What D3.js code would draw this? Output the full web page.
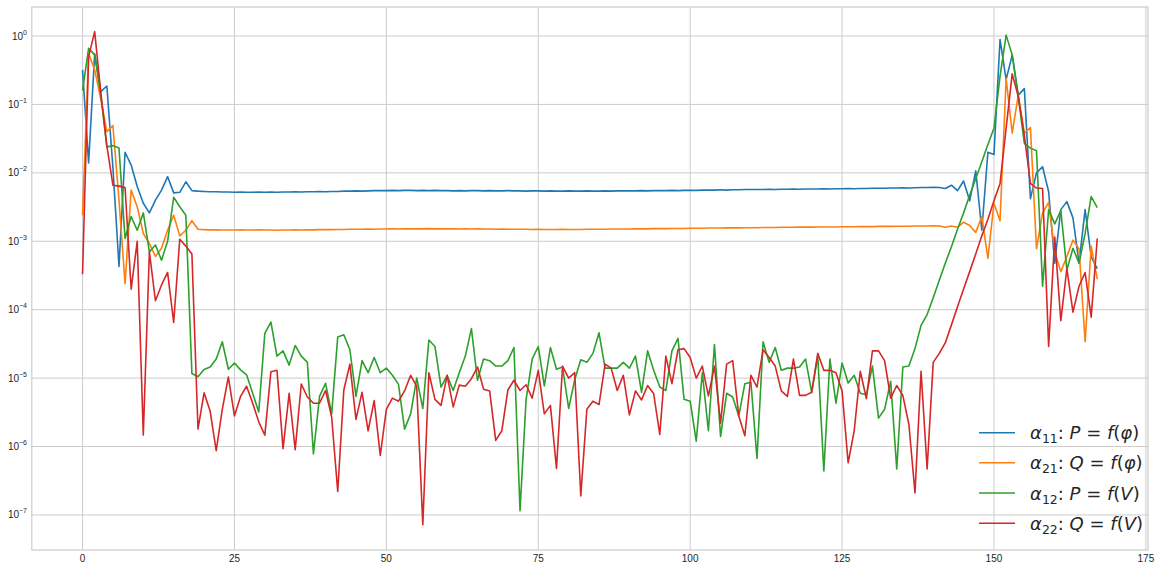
<!DOCTYPE html>
<html><head><meta charset="utf-8">
<script src="https://cdn.jsdelivr.net/npm/d3@7"></script>
<style>html,body{margin:0;padding:0;background:#fff;}svg{display:block;}</style>
</head><body><svg id="chart" width="1161" height="570"></svg>
<script>
const xTicks = [0, 25, 50, 75, 100, 125, 150, 175];
const yTickExps = [0, -1, -2, -3, -4, -5, -6, -7];
const seriesNames = ["11", "21", "12", "22"];
const seriesLhs = ["P", "Q", "P", "Q"];
const seriesArg = ["φ", "φ", "V", "V"];
const colors = ["#1f77b4", "#ff7f0e", "#2ca02c", "#d62728"];

const alpha11 = [
0.32,0.014,0.55,0.154,0.186,0.012,4.3e-4,0.020,0.013,6.3e-3,
3.6e-3,2.6e-3,4.0e-3,5.6e-3,8.8e-3,5.1e-3,5.2e-3,7.4e-3,5.5e-3,5.4e-3,
5.35e-3,5.3e-3,5.3e-3,5.25e-3,5.25e-3,5.2e-3,5.25e-3,5.2e-3,5.2e-3,5.25e-3,
5.2e-3,5.25e-3,5.2e-3,5.25e-3,5.25e-3,5.3e-3,5.25e-3,5.3e-3,5.3e-3,5.35e-3,
5.3e-3,5.35e-3,5.35e-3,5.4e-3,5.4e-3,5.45e-3,5.4e-3,5.45e-3,5.5e-3,5.5e-3,
5.5e-3,5.55e-3,5.5e-3,5.55e-3,5.55e-3,5.5e-3,5.55e-3,5.5e-3,5.55e-3,5.5e-3,
5.5e-3,5.45e-3,5.5e-3,5.45e-3,5.5e-3,5.5e-3,5.45e-3,5.5e-3,5.45e-3,5.45e-3,
5.5e-3,5.45e-3,5.45e-3,5.4e-3,5.45e-3,5.45e-3,5.4e-3,5.45e-3,5.4e-3,5.4e-3,
5.45e-3,5.4e-3,5.4e-3,5.45e-3,5.4e-3,5.4e-3,5.45e-3,5.4e-3,5.45e-3,5.45e-3,
5.45e-3,5.45e-3,5.5e-3,5.45e-3,5.5e-3,5.5e-3,5.5e-3,5.55e-3,5.5e-3,5.55e-3,
5.55e-3,5.55e-3,5.6e-3,5.6e-3,5.6e-3,5.65e-3,5.6e-3,5.65e-3,5.65e-3,5.7e-3,
5.7e-3,5.7e-3,5.7e-3,5.75e-3,5.7e-3,5.75e-3,5.75e-3,5.8e-3,5.75e-3,5.8e-3,
5.8e-3,5.8e-3,5.85e-3,5.8e-3,5.85e-3,5.85e-3,5.9e-3,5.85e-3,5.9e-3,5.9e-3,
5.95e-3,5.95e-3,5.95e-3,6.0e-3,6.0e-3,6.05e-3,6.0e-3,6.05e-3,6.1e-3,6.1e-3,
6.15e-3,6.1e-3,5.9e-3,6.6e-3,5.5e-3,7.6e-3,3.9e-3,0.0107,1.45e-3,0.020,
0.0186,0.89,0.23,0.53,0.137,0.17,4.2e-3,0.010,0.0123,5.3e-3,
4.8e-4,2.9e-3,3.8e-3,2.2e-3,4.8e-4,2.9e-3,5.9e-4,4.0e-4];

const alpha21 = [
2.4e-3,0.56,0.32,0.12,0.04,0.049,4.0e-3,2.4e-4,5.6e-3,3.2e-3,
1.3e-3,9.3e-4,6.0e-4,7.9e-4,1.45e-3,2.4e-3,1.2e-3,1.45e-3,2.0e-3,1.5e-3,
1.48e-3,1.47e-3,1.47e-3,1.46e-3,1.46e-3,1.46e-3,1.47e-3,1.46e-3,1.46e-3,1.47e-3,
1.46e-3,1.46e-3,1.45e-3,1.46e-3,1.46e-3,1.47e-3,1.46e-3,1.47e-3,1.47e-3,1.48e-3,
1.48e-3,1.48e-3,1.49e-3,1.49e-3,1.5e-3,1.5e-3,1.5e-3,1.51e-3,1.5e-3,1.51e-3,
1.51e-3,1.52e-3,1.51e-3,1.52e-3,1.52e-3,1.52e-3,1.52e-3,1.53e-3,1.52e-3,1.52e-3,
1.52e-3,1.52e-3,1.51e-3,1.52e-3,1.51e-3,1.52e-3,1.51e-3,1.51e-3,1.5e-3,1.51e-3,
1.5e-3,1.5e-3,1.5e-3,1.5e-3,1.49e-3,1.5e-3,1.49e-3,1.49e-3,1.49e-3,1.5e-3,
1.49e-3,1.49e-3,1.49e-3,1.5e-3,1.5e-3,1.5e-3,1.5e-3,1.51e-3,1.51e-3,1.51e-3,
1.51e-3,1.52e-3,1.52e-3,1.52e-3,1.53e-3,1.53e-3,1.53e-3,1.54e-3,1.54e-3,1.54e-3,
1.55e-3,1.55e-3,1.55e-3,1.56e-3,1.56e-3,1.56e-3,1.57e-3,1.57e-3,1.57e-3,1.58e-3,
1.58e-3,1.58e-3,1.59e-3,1.59e-3,1.59e-3,1.6e-3,1.6e-3,1.6e-3,1.61e-3,1.61e-3,
1.61e-3,1.62e-3,1.62e-3,1.62e-3,1.62e-3,1.63e-3,1.63e-3,1.63e-3,1.64e-3,1.64e-3,
1.64e-3,1.65e-3,1.65e-3,1.65e-3,1.66e-3,1.66e-3,1.66e-3,1.67e-3,1.67e-3,1.67e-3,
1.68e-3,1.67e-3,1.6e-3,1.67e-3,1.6e-3,1.9e-3,1.7e-3,1.35e-3,2.3e-3,5.6e-4,
3.6e-3,2.0e-3,0.24,0.038,0.137,0.038,0.046,7.8e-4,2.6e-3,3.7e-3,
7.0e-4,3.6e-4,6.0e-4,1.04e-3,7.8e-4,3.4e-5,8.5e-4,2.8e-4];

const alpha12 = [
0.16,0.66,0.53,0.14,0.024,0.025,0.023,1.1e-3,2.3e-3,1.45e-3,
2.6e-3,7.0e-4,8.8e-4,5.3e-4,1.0e-3,4.4e-3,3.2e-3,2.4e-3,1.17e-5,1.05e-5,
1.34e-5,1.45e-5,1.9e-5,3.4e-5,1.35e-5,1.66e-5,1.32e-5,1.12e-5,6.0e-6,3.2e-6,
4.5e-5,6.6e-5,2.1e-5,2.5e-5,1.55e-5,3.0e-5,2.1e-5,1.7e-5,7.8e-7,5.4e-6,
8.4e-6,3.0e-6,4.0e-5,4.3e-5,2.6e-5,5.4e-6,1.8e-5,1.2e-5,2.0e-5,1.2e-5,
1.4e-5,1.1e-5,8.1e-6,1.8e-6,3.0e-6,1.0e-5,3.6e-6,3.6e-5,2.9e-5,7.4e-6,
1.1e-5,6.6e-6,1.2e-5,2.1e-5,5.3e-5,9.3e-6,1.9e-5,1.8e-5,1.5e-5,1.5e-5,
1.8e-5,2.8e-5,1.15e-7,4.9e-6,1.9e-5,2.9e-5,7.7e-6,2.8e-5,1.35e-5,1.45e-5,
3.6e-6,9.5e-6,1.85e-5,1.7e-5,2.3e-5,4.6e-5,1.4e-5,1.4e-5,1.4e-5,1.7e-5,
1.4e-5,2.1e-5,6.2e-6,2.5e-5,1.3e-5,7.4e-6,6.6e-6,2.5e-5,3.8e-5,4.9e-6,
4.6e-6,1.2e-6,1.2e-5,1.7e-6,3.1e-5,1.4e-6,6.0e-6,5.3e-6,2.8e-6,8.3e-6,
8.7e-6,6.7e-7,3.4e-5,1.7e-5,2.8e-5,1.3e-5,1.4e-5,1.4e-5,1.45e-5,1.9e-5,
6.2e-6,2.1e-5,4.4e-7,1.9e-5,4.3e-6,1.66e-5,8.5e-6,1.1e-5,6.0e-6,5.7e-6,
1.5e-5,2.6e-6,3.5e-6,9.0e-6,4.7e-7,1.45e-5,1.5e-5,2.7e-5,5.9e-5,8.5e-5,
1.5e-4,2.7e-4,4.8e-4,8.3e-4,1.5e-3,2.6e-3,4.7e-3,8.2e-3,0.0145,0.026,
0.045,0.26,1.03,0.53,0.13,0.027,0.023,0.021,2.2e-4,2.9e-3,
1.8e-3,2.8e-3,3.8e-4,7.9e-4,4.8e-4,1.3e-3,4.5e-3,3.1e-3];

const alpha22 = [
3.3e-4,0.5,1.16,0.15,0.025,6.6e-3,6.4e-3,6.1e-3,2.0e-4,1.0e-3,
1.47e-6,7.0e-4,1.35e-4,2.3e-4,3.5e-4,6.5e-5,1.07e-3,8.5e-4,6.5e-4,1.8e-6,
6.1e-6,3.3e-6,8.7e-7,3.5e-6,1.04e-5,2.8e-6,5.4e-6,7.6e-6,4.3e-6,2.3e-6,
1.47e-6,1.24e-5,1.3e-5,9.3e-7,6.0e-6,9.0e-7,8.2e-6,5.3e-6,4.3e-6,4.3e-6,
6.6e-6,2.7e-6,2.2e-7,6.7e-6,1.6e-5,2.5e-6,6.2e-6,1.7e-6,4.7e-6,7.4e-7,
3.5e-6,5.1e-6,4.6e-6,6.5e-6,1.1e-5,7.6e-6,7.2e-8,1.2e-5,4.9e-6,4.0e-6,
1.1e-5,3.8e-6,7.9e-6,7.6e-6,9.8e-6,1.45e-5,6.9e-6,6.5e-6,1.23e-6,1.7e-6,
6.7e-6,9.3e-6,6.6e-6,8.0e-6,5.1e-6,1.3e-5,3.0e-6,4.0e-6,4.8e-7,1.5e-5,
1.0e-5,1.2e-5,1.9e-7,3.5e-6,4.6e-6,4.1e-6,1.6e-5,1.4e-5,6.6e-6,1.1e-5,
2.9e-6,6.5e-6,4.8e-6,7.8e-6,5.9e-6,1.5e-6,2.1e-5,8.3e-6,2.6e-5,2.7e-5,
2.0e-5,1.0e-5,1.5e-5,5.5e-6,1.5e-5,2.2e-6,1.6e-5,1.8e-5,2.8e-6,1.44e-6,
1.1e-5,7.4e-6,2.6e-5,2.0e-5,1.5e-5,6.5e-6,5.4e-6,1.9e-5,5.6e-6,5.6e-6,
6.2e-6,2.3e-5,1.3e-5,1.3e-5,1.2e-5,6.5e-6,5.8e-7,1.7e-6,1.26e-5,5.0e-6,
2.5e-5,2.5e-5,1.8e-5,5.1e-6,7.8e-6,5.6e-6,2.1e-6,2.1e-7,1.26e-5,4.7e-7,
1.7e-5,2.3e-5,3.3e-5,6.0e-5,1.1e-4,2.0e-4,3.6e-4,6.5e-4,1.2e-3,2.1e-3,
3.9e-3,7.0e-3,0.045,0.28,0.13,0.035,7.0e-3,6.0e-3,5.9e-3,2.9e-5,
1.15e-3,6.9e-5,4.0e-4,9.2e-5,2.2e-4,3.5e-4,7.8e-5,1.1e-3];

const allSeries = [alpha11, alpha21, alpha12, alpha22];

const svg = d3.select("#chart");
const L = 31.8, R = 1148, T = 7, B = 550;
const x = d3.scaleLinear().domain([-8.35, 175.35]).range([L, R]);
const y = d3.scaleLog().domain([Math.pow(10, -7.512), Math.pow(10, 0.424)]).range([B, T]);

const grid = svg.append("g");
grid.selectAll("line.vx").data(xTicks).join("line")
  .attr("x1", d => x(d)).attr("x2", d => x(d)).attr("y1", T).attr("y2", B)
  .attr("stroke", "#cccccc").attr("stroke-width", 1);
grid.selectAll("line.hy").data(yTickExps).join("line")
  .attr("x1", L).attr("x2", R).attr("y1", d => y(Math.pow(10, d))).attr("y2", d => y(Math.pow(10, d)))
  .attr("stroke", "#cccccc").attr("stroke-width", 1);

svg.append("defs").append("clipPath").attr("id", "clip")
  .append("rect").attr("x", L).attr("y", T).attr("width", R - L).attr("height", B - T);

const line = d3.line().x((d, i) => x(i)).y(d => y(d));
const plot = svg.append("g").attr("clip-path", "url(#clip)");
allSeries.forEach((s, k) => {
  plot.append("path").datum(s).attr("d", line)
    .attr("fill", "none").attr("stroke", colors[k]).attr("stroke-width", 1.6)
    .attr("stroke-linejoin", "round").attr("stroke-linecap", "butt");
});

svg.append("rect").attr("x", L).attr("y", T).attr("width", R - L).attr("height", B - T)
  .attr("fill", "none").attr("stroke", "#cccccc").attr("stroke-width", 1.2);

// x tick labels
svg.append("g").selectAll("text").data(xTicks).join("text")
  .attr("x", d => x(d)).attr("y", 562)
  .attr("text-anchor", "middle")
  .attr("font-family", "Liberation Sans, Arial, sans-serif").attr("font-size", 10)
  .attr("fill", "#262626").text(d => d);

// y tick labels
const yl = svg.append("g").selectAll("text").data(yTickExps).join("text")
  .attr("x", 27).attr("y", d => y(Math.pow(10, d)) + 3.5)
  .attr("text-anchor", "end")
  .attr("font-family", "Liberation Sans, Arial, sans-serif").attr("font-size", 10)
  .attr("fill", "#262626");
yl.append("tspan").text("10");
yl.append("tspan").attr("dy", -5).attr("font-size", 7).text(d => d === 0 ? "0" : "\u2212" + Math.abs(d));

// legend
const leg = svg.append("g");
const legY = [432.7, 462.7, 493.0, 523.2];
seriesNames.forEach((nm, k) => {
  const yy = legY[k];
  leg.append("line").attr("x1", 979).attr("x2", 1015).attr("y1", yy).attr("y2", yy)
    .attr("stroke", colors[k]).attr("stroke-width", 1.6);
  const t = leg.append("text").attr("x", 1030).attr("y", yy + 6.5)
    .attr("font-family", "DejaVu Sans, sans-serif").attr("font-size", 18).attr("fill", "#262626");
  t.append("tspan").attr("font-style", "italic").text("α");
  t.append("tspan").attr("font-size", 12.5).attr("dy", 4).text(nm);
  t.append("tspan").attr("dy", -4).text(": ");
  t.append("tspan").attr("font-style", "italic").text(seriesLhs[k]);
  t.append("tspan").text(" = ");
  t.append("tspan").attr("font-style", "italic").text("f");
  t.append("tspan").text("(");
  t.append("tspan").attr("font-style", "italic").text(seriesArg[k]);
  t.append("tspan").text(")");
});
</script></body></html>
